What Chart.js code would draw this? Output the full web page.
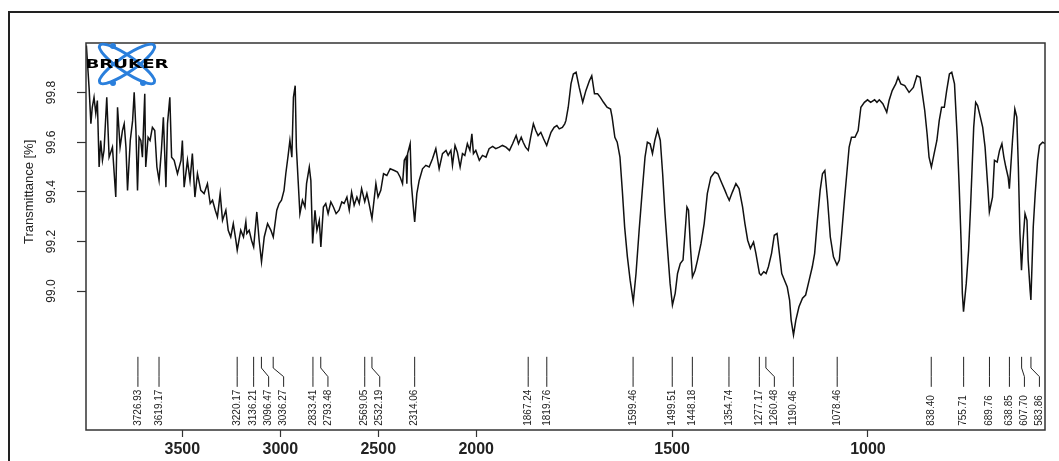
<!DOCTYPE html>
<html>
<head>
<meta charset="utf-8">
<script src="https://cdn.jsdelivr.net/npm/chart.js@4.4.1/dist/chart.umd.min.js"></script>
<style>
  html, body { margin: 0; padding: 0; background: #fff; overflow: hidden; }
  #frame { position: absolute; left: 8px; top: 11px; width: 1200px; height: 600px; border: 2px solid #222; box-sizing: border-box; }
  #chart { position: absolute; left: 0; top: 0; }
</style>
</head>
<body>
<div id="frame"></div>
<canvas id="chart" width="1059" height="461"></canvas>
<script>
// IR spectrum (Bruker OPUS style, x axis compressed x2 above 2000 cm-1)
const wavenumber = [
  3990, 3976, 3967, 3960, 3951, 3942, 3934, 3925, 3917, 3908, 3900, 3886, 3874, 3857, 3840, 3831,
  3818, 3806, 3797, 3788, 3780, 3766, 3754, 3746, 3737, 3729, 3721, 3712, 3704, 3692, 3687, 3675,
  3665, 3653, 3641, 3630, 3619, 3607, 3597, 3584, 3576, 3564, 3555, 3542, 3525, 3507, 3500, 3491,
  3474, 3461, 3449, 3436, 3423, 3406, 3389, 3372, 3358, 3346, 3332, 3321, 3307, 3295, 3278, 3266,
  3253, 3240, 3227, 3220, 3202, 3188, 3176, 3171, 3159, 3147, 3136, 3120, 3108, 3096, 3082, 3065,
  3048, 3036, 3018, 3006, 2994, 2981, 2972, 2960, 2951, 2941, 2933, 2924, 2918, 2909, 2900, 2887,
  2874, 2866, 2852, 2844, 2835, 2823, 2813, 2801, 2793, 2780, 2768, 2756, 2742, 2729, 2715, 2700,
  2686, 2674, 2660, 2648, 2636, 2623, 2609, 2597, 2585, 2569, 2558, 2547, 2532, 2512, 2501, 2487,
  2473, 2456, 2439, 2418, 2402, 2388, 2376, 2367, 2358, 2354, 2350, 2337, 2331, 2321, 2314, 2303,
  2291, 2274, 2257, 2240, 2223, 2206, 2189, 2172, 2154, 2143, 2129, 2121, 2108, 2096, 2082, 2070,
  2058, 2045, 2032, 2022, 2014, 2002, 1992, 1984, 1975, 1967, 1958, 1950, 1941, 1933, 1924, 1915,
  1907, 1898, 1892, 1885, 1880, 1874, 1867, 1861, 1854, 1848, 1842, 1835, 1828, 1820, 1816, 1809,
  1801, 1794, 1788, 1780, 1774, 1771, 1765, 1758, 1752, 1745, 1737, 1728, 1720, 1711, 1705, 1698,
  1690, 1683, 1675, 1666, 1657, 1653, 1646, 1640, 1633, 1627, 1621, 1614, 1607, 1599, 1592, 1584,
  1576, 1569, 1563, 1556, 1550, 1544, 1537, 1530, 1524, 1518, 1512, 1505, 1499, 1492, 1486, 1479,
  1472, 1467, 1462, 1458, 1453, 1448, 1441, 1435, 1426, 1418, 1410, 1401, 1391, 1383, 1374, 1365,
  1360, 1354, 1346, 1337, 1329, 1320, 1314, 1307, 1300, 1292, 1286, 1277, 1273, 1266, 1260, 1254,
  1246, 1239, 1232, 1226, 1220, 1213, 1206, 1200, 1196, 1190, 1184, 1176, 1167, 1159, 1150, 1142,
  1136, 1129, 1122, 1116, 1110, 1103, 1096, 1088, 1079, 1073, 1067, 1060, 1054, 1048, 1042, 1033,
  1025, 1018, 1009, 1001, 993, 983, 977, 971, 962, 954, 952, 946, 938, 929, 923, 916,
  906, 895, 884, 875, 867, 861, 855, 849, 844, 838, 831, 824, 818, 812, 805, 799,
  792, 786, 779, 772, 767, 762, 759, 756, 749, 743, 738, 734, 730, 725, 720, 713,
  707, 701, 694, 690, 682, 677, 670, 664, 658, 653, 648, 642, 639, 631, 625, 620,
  616, 612, 608, 604, 599, 594, 591, 586, 584, 578, 573, 567, 562, 554, 548
];
const transmittance = [
  99.99, 99.816, 99.675, 99.741, 99.781, 99.716, 99.768, 99.500, 99.607, 99.527, 99.567, 99.781, 99.540, 99.580, 99.379, 99.741,
  99.580, 99.647, 99.674, 99.580, 99.406, 99.607, 99.687, 99.801, 99.647, 99.406, 99.620, 99.607, 99.540, 99.795, 99.500, 99.620,
  99.607, 99.660, 99.647, 99.500, 99.446, 99.567, 99.701, 99.419, 99.674, 99.781, 99.540, 99.527, 99.473, 99.527, 99.607, 99.419,
  99.527, 99.446, 99.554, 99.379, 99.473, 99.406, 99.393, 99.433, 99.353, 99.366, 99.326, 99.299, 99.393, 99.285, 99.326, 99.245,
  99.218, 99.272, 99.205, 99.165, 99.245, 99.218, 99.279, 99.232, 99.245, 99.205, 99.178, 99.319, 99.205, 99.118, 99.218, 99.272,
  99.245, 99.218, 99.326, 99.353, 99.366, 99.406, 99.473, 99.547, 99.607, 99.540, 99.781, 99.828, 99.580, 99.446, 99.312, 99.366,
  99.339, 99.433, 99.500, 99.446, 99.192, 99.326, 99.245, 99.285, 99.178, 99.339, 99.353, 99.312, 99.359, 99.339, 99.312, 99.326,
  99.359, 99.353, 99.379, 99.326, 99.399, 99.346, 99.379, 99.353, 99.413, 99.360, 99.393, 99.353, 99.292, 99.433, 99.379, 99.406,
  99.473, 99.466, 99.493, 99.486, 99.480, 99.459, 99.433, 99.527, 99.540, 99.433, 99.554, 99.594, 99.433, 99.339, 99.279, 99.393,
  99.446, 99.493, 99.507, 99.500, 99.533, 99.574, 99.493, 99.554, 99.567, 99.547, 99.567, 99.507, 99.587, 99.560, 99.500, 99.554,
  99.547, 99.594, 99.567, 99.634, 99.554, 99.567, 99.527, 99.547, 99.540, 99.574, 99.583, 99.574, 99.580, 99.587, 99.580, 99.567,
  99.594, 99.627, 99.594, 99.620, 99.600, 99.580, 99.567, 99.620, 99.674, 99.647, 99.627, 99.640, 99.614, 99.587, 99.607, 99.640,
  99.660, 99.667, 99.654, 99.660, 99.674, 99.687, 99.741, 99.835, 99.875, 99.882, 99.821, 99.761, 99.808, 99.848, 99.868, 99.795,
  99.795, 99.781, 99.761, 99.741, 99.734, 99.701, 99.620, 99.600, 99.540, 99.406, 99.258, 99.138, 99.044, 98.957, 99.071, 99.245,
  99.406, 99.540, 99.600, 99.594, 99.554, 99.607, 99.650, 99.607, 99.473, 99.312, 99.178, 99.031, 98.944, 98.991, 99.071, 99.111,
  99.125, 99.232, 99.339, 99.326, 99.178, 99.057, 99.084, 99.125, 99.192, 99.272, 99.393, 99.459, 99.480, 99.473, 99.439, 99.406,
  99.386, 99.366, 99.399, 99.433, 99.413, 99.339, 99.272, 99.205, 99.172, 99.198, 99.152, 99.071, 99.064, 99.078, 99.071, 99.098,
  99.152, 99.225, 99.232, 99.152, 99.071, 99.044, 99.017, 98.964, 98.883, 98.823, 98.883, 98.937, 98.971, 98.984, 99.044, 99.098,
  99.152, 99.285, 99.406, 99.473, 99.486, 99.366, 99.218, 99.138, 99.105, 99.125, 99.232, 99.366, 99.473, 99.580, 99.620, 99.620,
  99.647, 99.741, 99.761, 99.771, 99.761, 99.771, 99.761, 99.771, 99.755, 99.728, 99.721, 99.768, 99.808, 99.835, 99.862, 99.835,
  99.828, 99.801, 99.821, 99.868, 99.862, 99.795, 99.728, 99.634, 99.540, 99.500, 99.554, 99.607, 99.687, 99.741, 99.741, 99.808,
  99.875, 99.882, 99.835, 99.620, 99.419, 99.192, 98.991, 98.917, 99.031, 99.165, 99.339, 99.500, 99.660, 99.761, 99.748, 99.701,
  99.660, 99.580, 99.419, 99.319, 99.379, 99.527, 99.520, 99.567, 99.594, 99.540, 99.500, 99.459, 99.413, 99.607, 99.734, 99.701,
  99.500, 99.232, 99.084, 99.205, 99.312, 99.285, 99.125, 99.004, 98.964, 99.258, 99.393, 99.527, 99.587, 99.600, 99.594
];
const peakPositions = [
  3726.93, 3619.17, 3220.17, 3136.21, 3096.47, 3036.27, 2833.41, 2793.48, 2569.05, 2532.19,
  2314.06, 1867.24, 1819.76, 1599.46, 1499.51, 1448.18, 1354.74, 1277.17, 1260.48, 1190.46,
  1078.46, 838.40, 755.71, 689.76, 638.85, 607.70, 583.86
];
const xTickValues = [3500, 3000, 2500, 2000, 1500, 1000];
const yTickValues = [99.0, 99.2, 99.4, 99.6, 99.8];
const xRange = [548, 3992];
const yRange = [98.44, 100.0];

// OPUS halves the scale above 2000 cm-1
const toAxis = w => (w > 2000 ? 2000 + (w - 2000) / 2 : w);
const fromAxis = u => (u > 2000 ? 2000 + (u - 2000) * 2 : u);

const ink = '#222';

const boxPlugin = {
  id: 'box',
  afterDatasetsDraw(chart) {
    const { ctx, chartArea: a } = chart;
    ctx.save();
    ctx.strokeStyle = '#333';
    ctx.lineWidth = 1.5;
    ctx.strokeRect(a.left, a.top, a.right - a.left, a.bottom - a.top);
    ctx.restore();
  }
};

const peakPlugin = {
  id: 'peaks',
  afterDraw(chart) {
    const { ctx } = chart;
    const xs = chart.scales.x, ys = chart.scales.y;
    const yTop = ys.getPixelForValue(98.735);
    const yK1 = ys.getPixelForValue(98.69);
    const yK2 = ys.getPixelForValue(98.655);
    const yBot = ys.getPixelForValue(98.614);
    const yText = ys.getPixelForValue(98.457);
    const gap = 15;
    let prev = -Infinity;
    ctx.save();
    ctx.strokeStyle = ink;
    ctx.fillStyle = ink;
    ctx.lineWidth = 1;
    ctx.font = '10px "Liberation Sans", Arial, sans-serif';
    peakPositions.forEach(p => {
      const px = xs.getPixelForValue(toAxis(p));
      const lx = Math.max(px, prev + gap);
      prev = lx;
      ctx.beginPath();
      ctx.moveTo(px, yTop);
      ctx.lineTo(px, yK1);
      ctx.lineTo(lx, yK2);
      ctx.lineTo(lx, yBot);
      ctx.stroke();
      ctx.save();
      ctx.translate(lx, yText);
      ctx.rotate(-Math.PI / 2);
      ctx.textAlign = 'left';
      ctx.textBaseline = 'middle';
      ctx.fillText(p.toFixed(2), 0, 0);
      ctx.restore();
    });
    ctx.restore();
  }
};

const yTitlePlugin = {
  id: 'ytitle',
  afterDraw(chart) {
    const { ctx } = chart;
    const ys = chart.scales.y;
    const mid = (ys.getPixelForValue(yTickValues[0]) + ys.getPixelForValue(yTickValues[yTickValues.length - 1])) / 2;
    ctx.save();
    ctx.translate(29, mid);
    ctx.rotate(-Math.PI / 2);
    ctx.fillStyle = ink;
    ctx.font = '13px "Liberation Sans", Arial, sans-serif';
    ctx.textAlign = 'center';
    ctx.textBaseline = 'middle';
    ctx.fillText('Transmittance [%]', 0, 0);
    ctx.restore();
  }
};

const logoPlugin = {
  id: 'logo',
  afterDraw(chart) {
    const { ctx, chartArea: a } = chart;
    const cx = a.left + 41, cy = a.top + 21;
    ctx.save();
    ctx.strokeStyle = '#2a7fdc';
    ctx.fillStyle = '#2a7fdc';
    ctx.lineWidth = 3;
    [0.6, -0.6].forEach(r => {
      ctx.beginPath();
      ctx.ellipse(cx, cy, 33, 8, r, 0, Math.PI * 2);
      ctx.stroke();
    });
    [[-14, -18], [-14, 19], [16, 19]].forEach(([dx, dy]) => {
      ctx.beginPath();
      ctx.arc(cx + dx, cy + dy, 3, 0, Math.PI * 2);
      ctx.fill();
    });
    ctx.translate(cx, cy + 0.5);
    ctx.scale(1.4, 1);
    ctx.fillStyle = '#000';
    ctx.font = 'bold 13px "DejaVu Sans", sans-serif';
    ctx.textAlign = 'center';
    ctx.textBaseline = 'middle';
    ctx.fillText('BRUKER', 0, 0);
    ctx.restore();
  }
};

new Chart(document.getElementById('chart').getContext('2d'), {
  type: 'line',
  data: {
    datasets: [{
      data: wavenumber.map((w, i) => ({ x: toAxis(w), y: transmittance[i] })),
      borderColor: '#111',
      borderWidth: 1.5,
      pointRadius: 0,
      tension: 0,
      fill: false
    }]
  },
  options: {
    responsive: false,
    animation: false,
    devicePixelRatio: 1,
    layout: { padding: { top: 43, right: 14, left: 0, bottom: 0 } },
    scales: {
      x: {
        type: 'linear',
        reverse: true,
        min: toAxis(xRange[0]),
        max: toAxis(xRange[1]),
        afterBuildTicks: axis => { axis.ticks = xTickValues.map(v => ({ value: toAxis(v) })); },
        afterFit: axis => { axis.height = 31; },
        border: { display: false },
        grid: { drawOnChartArea: false, tickLength: 7, color: '#333', tickWidth: 1.2 },
        ticks: {
          autoSkip: false, maxRotation: 0, padding: 3, color: ink,
          font: { family: '"Liberation Sans", Arial, sans-serif', size: 16, weight: 'bold' },
          callback: v => String(Math.round(fromAxis(v)))
        }
      },
      y: {
        min: yRange[0],
        max: yRange[1],
        afterBuildTicks: axis => { axis.ticks = yTickValues.map(v => ({ value: v })); },
        afterFit: axis => { axis.width = 86; },
        border: { display: false },
        grid: { drawOnChartArea: false, tickLength: 9, color: '#333', tickWidth: 1.2 },
        ticks: {
          minRotation: 90, maxRotation: 90, crossAlign: 'center', padding: 14, color: ink,
          font: { family: '"Liberation Sans", Arial, sans-serif', size: 12 },
          callback: v => v.toFixed(1)
        }
      }
    },
    plugins: { legend: { display: false }, tooltip: { enabled: false } }
  },
  plugins: [boxPlugin, peakPlugin, yTitlePlugin, logoPlugin]
});
</script>
</body>
</html>
